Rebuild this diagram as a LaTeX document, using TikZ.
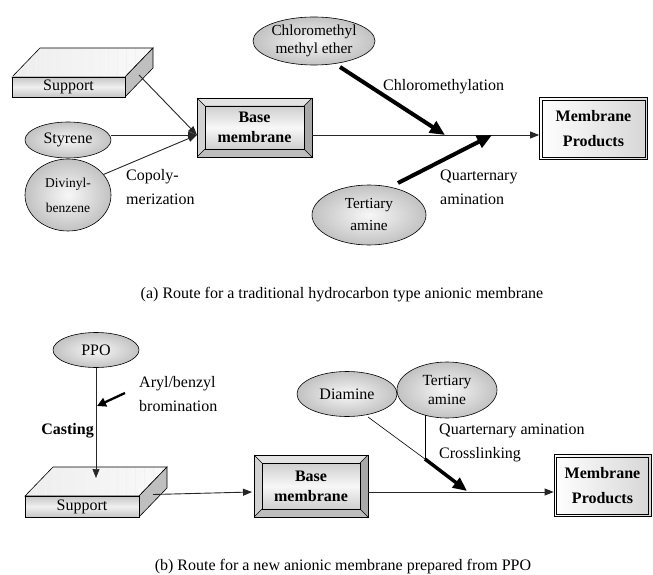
\documentclass[tikz,border=0pt]{standalone}
\usepackage{fontspec}
\setmainfont{Liberation Serif}
\usetikzlibrary{arrows.meta,shapes.geometric,calc}

% bevelled box: cx, cy, half width, half height, name, text
\newcommand\bevbox[6]{%
  \begin{scope}[shift={(#1,#2)}]
    \fill[gray!22] (-#3,-#4) -- (#3,-#4) -- ({#3-8},{-#4+8}) -- ({-#3+8},{-#4+8}) -- cycle;
    \fill[gray!35] (-#3,-#4) -- ({-#3+8},{-#4+8}) -- ({-#3+8},{#4-8}) -- (-#3,#4) -- cycle;
    \fill[gray!68] (#3,-#4) -- (#3,#4) -- ({#3-8},{#4-8}) -- ({#3-8},{-#4+8}) -- cycle;
    \fill[gray!52] (-#3,#4) -- (#3,#4) -- ({#3-8},{#4-8}) -- ({-#3+8},{#4-8}) -- cycle;
    \shade[top color=gray!38, bottom color=gray!38, middle color=gray!6]
      ({-#3+8},{-#4+8}) rectangle ({#3-8},{#4-8});
    \draw[line width=0.5pt] ({-#3+8},{-#4+8}) rectangle ({#3-8},{#4-8});
    \draw[line width=0.5pt] (-#3,-#4) -- ({-#3+8},{-#4+8}) (#3,-#4) -- ({#3-8},{-#4+8})
      (-#3,#4) -- ({-#3+8},{#4-8}) (#3,#4) -- ({#3-8},{#4-8});
  \end{scope}
  \node[boxtext, draw, line width=0.8pt, minimum width={2*#3}, minimum height={2*#4}] (#5) at (#1,#2) {#6};
}

% product box with double border: cx, cy, width, height, name
\newcommand\prodbox[5]{%
  \node[prodbox, minimum width=#3, minimum height=#4] (#5) at (#1,#2) {Membrane\\Products};
  \draw[line width=0.7pt] ([shift={(3pt,-3pt)}]#5.north west) rectangle ([shift={(-3pt,3pt)}]#5.south east);
}

% slab: front x1, y1, x2, y2, name, coordinate name of right face point
\newcommand\slab[6]{%
  \begin{scope}
    \clip (#1,#2) -- ({#1+28},{#2-29}) -- ({#3+28},{#2-29}) -- (#3,#2) -- cycle;
    \shade[left color=gray!14, right color=gray!4] ({#1},{#2-30}) rectangle ({#3+30},{#2});
    \draw[gray!10, line width=0.4pt, step=9] ({#1},{#2-30}) grid ({#3+30},{#2});
  \end{scope}
  \draw[line width=0.6pt] (#1,#2) -- ({#1+28},{#2-29}) -- ({#3+28},{#2-29}) -- (#3,#2) -- cycle;
  \fill[gray!50] (#3,#2) -- ({#3+28},{#2-29}) -- ({#3+28},{#4-29}) -- (#3,#4) -- cycle;
  \draw[line width=0.6pt] (#3,#2) -- ({#3+28},{#2-29}) -- ({#3+28},{#4-29}) -- (#3,#4) -- cycle;
  \node[slabfront, minimum width={#3-#1}, minimum height={#4-#2}] (#5) at ({(#1+#3)/2},{(#2+#4)/2}) {Support};
  \coordinate (#6) at ({#3+14},{(#2+#4)/2-12});
}

\begin{document}
\begin{tikzpicture}[x=1pt, y=-1pt,
  font=\fontsize{16}{20}\selectfont,
  ell/.style={ellipse, draw=black, line width=0.6pt, inner sep=0pt,
    inner color=gray!6, outer color=gray!48, align=center},
  boxtext/.style={align=center, inner sep=0pt, font=\bfseries\fontsize{16}{20}\selectfont},
  prodbox/.style={draw=black, line width=0.7pt,
    left color=white, right color=gray!32, inner sep=0pt, align=center,
    font=\bfseries\fontsize{16}{25}\selectfont},
  slabfront/.style={draw=black, line width=0.6pt, inner sep=0pt,
    top color=gray!45, bottom color=gray!45, middle color=gray!12},
  lab/.style={anchor=west, align=left, inner sep=0pt},
  conn/.style={line width=0.9pt, draw=black!85},
  tipa/.style={-{Triangle[length=9pt,width=7pt]}},
  bigarr/.style={line width=4pt, -{Triangle[length=15pt,width=13pt]}},
]
\useasboundingbox (0,0) rectangle (653,575);

% ---------------- (a) ----------------
\slab{12}{77}{125}{97}{sup1}{s1}
\node[ell, minimum width=86, minimum height=36] (sty) at (68,140) {Styrene};
\node[ell, minimum width=86, minimum height=72, font=\fontsize{13.5}{25}\selectfont] (dvb) at (68,195) {Divinyl-\\benzene};
\bevbox{254.5}{127.5}{57.5}{29.5}{bm1}{Base\\membrane}
\prodbox{593.5}{128.5}{108}{62}{mp1}
\node[ell, minimum width=122, minimum height=48, font=\fontsize{15.3}{17.5}\selectfont] (cme) at (314,41) {Chloromethyl\\methyl ether};
\node[ell, minimum width=114, minimum height=60, font=\fontsize{15.3}{22}\selectfont] (ta1) at (369,215) {Tertiary\\amine};

\coordinate (j1) at (197,135);
\draw[conn, tipa] (s1) -- (j1);
\draw[conn, tipa] (sty.east |- j1) -- (j1);
\draw[conn, tipa] (dvb.30) -- (j1);
\draw[conn, tipa] (bm1.east |- j1) -- (mp1.west |- j1);

\coordinate (c1s) at (340,67);
\coordinate (c1e) at (445,135);
\coordinate (t1s) at (398,183);
\coordinate (t1e) at (492,135);
\draw[bigarr] (c1s) -- (c1e);
\draw[bigarr] (t1s) -- (t1e);

\node[lab, font=\fontsize{16}{24}\selectfont] (cop) at (126,187) {Copoly-\\merization};
\node[lab] (chl) at (383,87) {Chloromethylation};
\node[lab, font=\fontsize{16}{24}\selectfont] (qa1) at (440,187) {Quarternary\\amination};

\node (capa) at (342,295) {(a) Route for a traditional hydrocarbon type anionic membrane};

% ---------------- (b) ----------------
\node[ell, minimum width=86, minimum height=35] (ppo) at (96,350) {PPO};
\slab{25}{496}{139}{517}{sup2}{s2}
\bevbox{311}{486}{57}{31}{bm2}{Base\\membrane}
\prodbox{602.5}{485.5}{97}{62}{mp2}
\node[ell, minimum width=100, minimum height=45] (dia) at (347,394) {Diamine};
\node[ell, minimum width=100, minimum height=56, font=\fontsize{15.5}{19}\selectfont] (ta2) at (447,390) {Tertiary\\amine};

\coordinate (p1) at (96,478);
\draw[conn, line width=0.7pt, tipa] (ppo.south) -- (p1);
\coordinate (b1s) at (125,393);
\coordinate (b1e) at (97,406);
\draw[line width=2.3pt, -{Triangle[length=9pt,width=9pt]}] (b1s) -- (b1e);

\coordinate (s2e) at (252,492);
\draw[conn, tipa] (s2) -- (s2e);
\draw[conn, tipa] (bm2.east |- s2e) -- (mp2.west |- s2e);

\coordinate (k) at (425,459);
\coordinate (kt) at (467,491);
\coordinate (d1) at (368,417);
\coordinate (t2) at (425,415);
\draw[line width=0.6pt] (d1) -- (k);
\draw[line width=0.6pt] (t2) -- (k);
\draw[line width=3.5pt, -{Triangle[length=14pt,width=12pt]}] (k) -- (kt);

\node[lab, font=\fontsize{16}{24}\selectfont] (ab) at (139,394) {Aryl/benzyl\\bromination};
\node[anchor=east, inner sep=0pt, font=\bfseries\fontsize{16}{20}\selectfont] (cast) at (94,431) {Casting};
\node[lab, font=\fontsize{16}{24}\selectfont] (qa2) at (439,443) {Quarternary amination\\Crosslinking};

\node (capb) at (343,567) {(b) Route for a new anionic membrane prepared from PPO};
\end{tikzpicture}
\end{document}
